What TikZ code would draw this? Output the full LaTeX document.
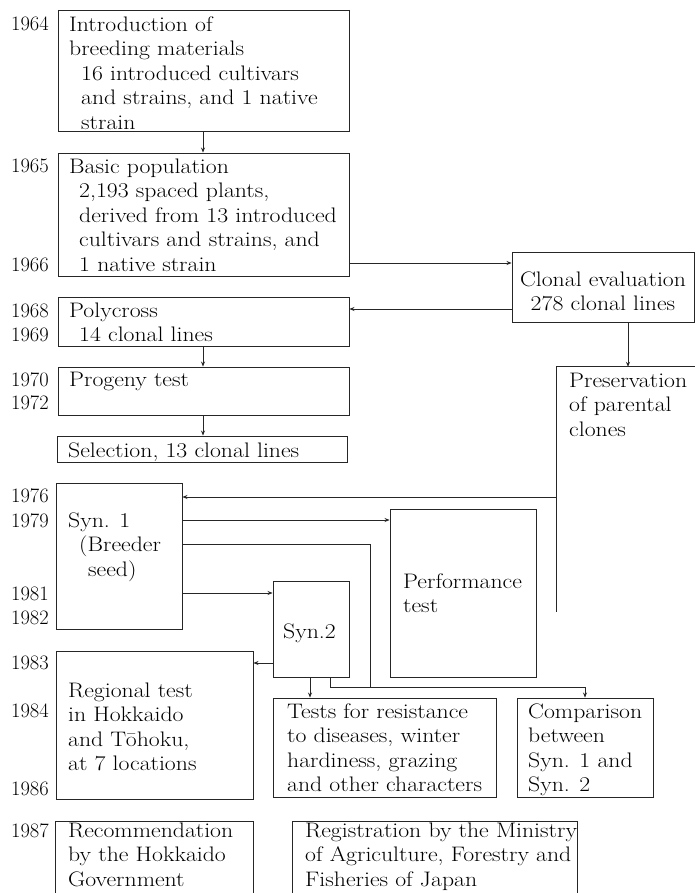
\documentclass[tikz,border=0pt]{standalone}
\usepackage{fontspec}
\setmainfont{Latin Modern Roman}[FakeStretch=1.13]
\newfontfamily\yearfont{Latin Modern Roman}
\usetikzlibrary{fit,arrows.meta}
\newcommand\fl{\rule{0pt}{15pt}}
\begin{document}
\begin{tikzpicture}[x=1pt,y=-1pt,
  box/.style={draw=black!85,line width=0.9pt,inner sep=0pt},
  openbox/.style={inner sep=0pt},
  edge/.style={draw=black!85,line width=0.9pt},
  txt/.style={anchor=north west,inner sep=0pt,align=left,font={\fontsize{21}{24.5}\selectfont}},
  ctxt/.style={anchor=north,inner sep=0pt,align=center,font={\fontsize{21}{24.5}\selectfont}},
  yr/.style={anchor=base east,inner sep=0pt,font={\yearfont\fontsize{20.5}{24}\selectfont}},
  arr/.style={draw=black!85,line width=0.7pt,-{Stealth[length=5pt,width=4pt]}},
  ln/.style={draw=black!85,line width=0.7pt}]
\useasboundingbox[fill=white] (0,0) rectangle (695,893);

% boxes
\node[box,fit={(58,10)(349,131)}] (intro) {};
\node[box,fit={(58,153)(349,276)}] (basic) {};
\node[box,fit={(58,297)(349,346)}] (poly) {};
\node[box,fit={(58,367)(349,415)}] (prog) {};
\node[box,fit={(57,436)(347,462)}] (sel) {};
\node[box,fit={(512,252)(694,322)}] (clonal) {};
\node[openbox,fit={(557,367)(695,612)}] (pres) {};
\draw[edge] (pres.north east) -- (pres.north west) -- (pres.south west);
\node[box,fit={(56,483)(182,629)}] (syn1) {};
\node[box,fit={(390,509)(536,677)}] (perf) {};
\node[box,fit={(273,581)(349,677)}] (syn2) {};
\node[box,fit={(56,651)(253,799)}] (reg) {};
\node[box,fit={(273,698)(496,797)}] (tests) {};
\node[box,fit={(517,698)(653,797)}] (comp) {};
\node[openbox,fit={(56,822)(253,893)}] (rec) {};
\draw[edge] (rec.south west) -- (rec.north west) -- (rec.north east) -- (rec.south east);
\node[openbox,fit={(293,822)(577,893)}] (regis) {};
\draw[edge] (regis.south west) -- (regis.north west) -- (regis.north east) -- (regis.south east);

% texts
\node[txt] (tintro) at (69,16) {\fl Introduction of\\breeding materials\\\hspace*{12pt}16 introduced cultivars\\\hspace*{12pt}and strains, and 1 native\\\hspace*{12pt}strain};
\node[txt] (tbasic) at (69,158) {\fl Basic population\\\hspace*{10pt}2,193 spaced plants,\\\hspace*{10pt}derived from 13 introduced\\\hspace*{10pt}cultivars and strains, and\\\hspace*{10pt}1 native strain};
\node[txt] (tpoly) at (69,302) {\fl Polycross\\\hspace*{10pt}14 clonal lines};
\node[txt] (tprog) at (69,371) {\fl Progeny test};
\node[txt] (tsel) at (68,442) {\fl Selection, 13 clonal lines};
\node[ctxt] (tclonal) at (603,271) {\fl Clonal evaluation\\278 clonal lines};
\node[txt] (tpres) at (569,372) {\fl Preservation\\of parental\\clones};
\node[txt] (tsyn1) at (68,512) {\fl Syn. 1\\\hspace*{11pt}(Breeder\\\hspace*{20pt}seed)};
\node[txt] (tperf) at (403,573) {\fl Performance\\test};
\node[txt] (tsyn2) at (283,623) {\fl Syn.2};
\node[txt] (treg) at (68,682) {\fl Regional test\\in Hokkaido\\and Tōhoku,\\at 7 locations};
\node[txt] (ttests) at (287,703) {\fl Tests for resistance\\to diseases, winter\\hardiness, grazing\\and other characters};
\node[txt] (tcomp) at (528,703) {\fl Comparison\\between\\Syn. 1 and\\Syn. 2};
\node[txt] (trec) at (68,822) {\fl Recommendation\\by the Hokkaido\\Government};
\node[txt] (tregis) at (305,822) {\fl Registration by the Ministry\\of Agriculture, Forestry and\\Fisheries of Japan};

% years
\node[yr] (y1964) at (49,31) {1964};
\node[yr] (y1965) at (49,173) {1965};
\node[yr] (y1966) at (49,271) {1966};
\node[yr] (y1968) at (49,317) {1968};
\node[yr] (y1969) at (49,341) {1969};
\node[yr] (y1970) at (49,386) {1970};
\node[yr] (y1972) at (49,409) {1972};
\node[yr] (y1976) at (49,502) {1976};
\node[yr] (y1979) at (49,527) {1979};
\node[yr] (y1981) at (49,600) {1981};
\node[yr] (y1982) at (49,624) {1982};
\node[yr] (y1983) at (49,669) {1983};
\node[yr] (y1984) at (49,717) {1984};
\node[yr] (y1986) at (49,795) {1986};
\node[yr] (y1987) at (49,837) {1987};

% connectors
\coordinate (cx) at (203,0);
\draw[arr] (intro.south -| cx) -- (basic.north -| cx);
\draw[arr] (poly.south -| cx) -- (prog.north -| cx);
\draw[arr] (prog.south -| cx) -- (sel.north -| cx);
\draw[arr] (basic.east |- 0,263) -- (clonal.west |- 0,263);
\draw[arr] (clonal.west |- 0,309) -- (poly.east |- 0,309);
\draw[arr] (clonal.south -| 628,0) -- (pres.north -| 628,0);
\draw[arr] (pres.west |- 0,497) -- (syn1.east |- 0,497);
\draw[arr] (syn1.east |- 0,520) -- (perf.west |- 0,520);
\coordinate (j1) at (370,544);
\coordinate (j2) at (370,687);
\coordinate (j3) at (585,687);
\draw[ln] (syn1.east |- j1) -- (j1) -- (j2);
\draw[arr] (syn2.south -| 330,0) -- (330,687) -- (j3) -- (comp.north -| j3);
\draw[arr] (syn1.east |- 0,593) -- (syn2.west |- 0,593);
\draw[arr] (syn2.west |- 0,663) -- (reg.east |- 0,663);
\draw[arr] (syn2.south -| 310,0) -- (tests.north -| 310,0);
\end{tikzpicture}
\end{document}
